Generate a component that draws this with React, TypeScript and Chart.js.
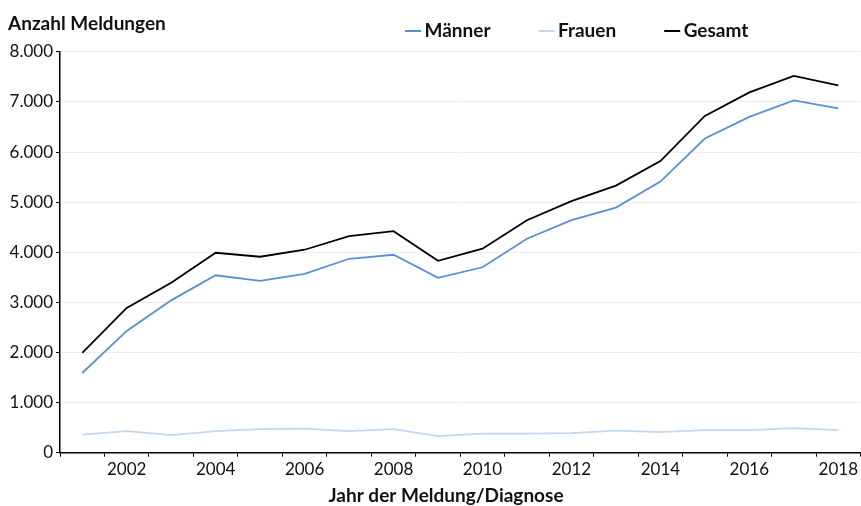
import React, { useEffect, useRef } from "react";
import { Chart, registerables } from "chart.js";

Chart.register(...registerables);

const years = ["2001","2002","2003","2004","2005","2006","2007","2008","2009","2010","2011","2012","2013","2014","2015","2016","2017","2018"];
const maenner = [1590, 2430, 3040, 3540, 3430, 3570, 3870, 3950, 3490, 3700, 4270, 4640, 4890, 5410, 6270, 6700, 7030, 6870];
const frauen = [360, 430, 350, 430, 470, 480, 430, 470, 330, 380, 380, 390, 440, 410, 450, 450, 490, 450];
const gesamt = [1990, 2890, 3390, 3990, 3910, 4050, 4320, 4420, 3830, 4070, 4640, 5020, 5330, 5820, 6720, 7190, 7520, 7330];
const yTicks = { min: 0, max: 8000, step: 1000 };
const X_TITLE = "Jahr der Meldung/Diagnose";

const FONT = "Lato, 'Open Sans', sans-serif";
const nf = new Intl.NumberFormat("de-DE");

const LEGEND_PAD = 48;
const BOX_W = 10;
const SWATCH_LEN = 16;

function makeSwatch(color: string) {
  const c = document.createElement("canvas");
  const W = 40;
  c.width = W;
  c.height = 2;
  const ctx = c.getContext("2d")!;
  ctx.fillStyle = color;
  const a = W / 2 - BOX_W / 2;
  ctx.fillRect(a, 0, SWATCH_LEN, 2);
  return c;
}

const boxShift = {
  id: "boxShift",
  afterLayout(chart: any) {
    const lg = chart.legend;
    if (lg) {
      const dx = 405 - (lg.left + LEGEND_PAD);
      lg.left += dx;
      lg.right += dx;
      lg.top = 21.5 - LEGEND_PAD;
      lg.bottom = 50;
      lg.height = lg.bottom - lg.top;
    }
    const sub = (chart.boxes || []).find((b: any) => b && b.options && b.options.text === X_TITLE);
    if (sub) {
      const center = (sub.left + sub.right) / 2;
      const dx = 446 - center;
      sub.left += dx;
      sub.right += dx;
    }
  },
};

export default function App() {
  const ref = useRef<HTMLCanvasElement | null>(null);
  useEffect(() => {
    if (!ref.current) return;
    const chart = new Chart(ref.current, {
      type: "line",
      data: {
        labels: years,
        datasets: [
          { label: "Männer", data: maenner, borderColor: "#5a8fd8", backgroundColor: "#5a8fd8", borderWidth: 1.8, pointRadius: 0, tension: 0 },
          { label: "Frauen", data: frauen, borderColor: "#c3d7f1", backgroundColor: "#c3d7f1", borderWidth: 1.8, pointRadius: 0, tension: 0 },
          { label: "Gesamt", data: gesamt, borderColor: "#000000", backgroundColor: "#000000", borderWidth: 1.8, pointRadius: 0, tension: 0 },
        ],
      },
      plugins: [boxShift],
      options: {
        animation: false,
        responsive: true,
        maintainAspectRatio: false,
        layout: { padding: { left: 8, right: 0, top: 0, bottom: 0 } },
        plugins: {
          title: {
            display: true,
            text: "Anzahl Meldungen",
            align: "start",
            color: "#111",
            font: { family: FONT, size: 19, weight: "bold" },
            padding: { top: 12.5, bottom: 15.5 },
          },
          subtitle: {
            display: true,
            position: "bottom",
            text: X_TITLE,
            align: "center",
            color: "#111",
            font: { family: FONT, size: 19, weight: "bold", lineHeight: 1.1 },
            padding: { top: 2, bottom: 0 },
          },
          legend: {
            display: true,
            position: "top",
            align: "start",
            maxHeight: 1,
            labels: {
              color: "#111",
              font: { family: FONT, size: 19, weight: "bold" },
              usePointStyle: true,
              pointStyleWidth: BOX_W,
              boxWidth: BOX_W,
              boxHeight: 2,
              padding: LEGEND_PAD,
              generateLabels(c: any) {
                const items = (Chart.defaults.plugins.legend.labels as any).generateLabels(c);
                items.forEach((it: any) => {
                  it.lineWidth = 0;
                  it.pointStyle = makeSwatch(it.strokeStyle);
                });
                return items;
              },
            },
          },
          tooltip: { enabled: false },
        },
        scales: {
          x: {
            type: "category",
            offset: true,
            grid: { display: true, drawOnChartArea: false, drawTicks: true, offset: true, tickLength: 4, tickColor: "#000" },
            border: { display: true, color: "#000", width: 1.5 },
            ticks: {
              autoSkip: false,
              maxRotation: 0,
              color: "#111",
              padding: 3,
              font: { family: FONT, size: 17 },
              callback: (_v: any, i: number) => (i % 2 === 1 ? years[i] : ""),
            },
            title: { display: false },
          },
          y: {
            min: yTicks.min,
            max: yTicks.max,
            afterFit: (s: any) => { s.width = 52; },
            grid: { color: "#ececec", tickColor: "#000", tickLength: 4, drawTicks: true },
            border: { display: true, color: "#000", width: 1.5 },
            ticks: {
              stepSize: yTicks.step,
              color: "#111",
              padding: 3,
              font: { family: FONT, size: 17 },
              callback: (v: any) => nf.format(Number(v)),
            },
          },
        },
      },
    });
    return () => chart.destroy();
  }, []);
  return (
    <div style={{ position: "absolute", left: 0, top: 0, width: 861, height: 506, background: "#fff" }}>
      <canvas ref={ref} />
    </div>
  );
}
